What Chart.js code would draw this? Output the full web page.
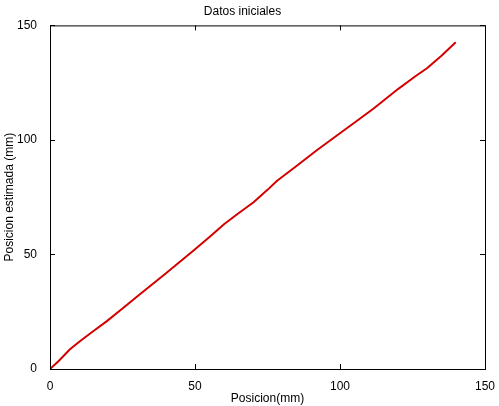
<!DOCTYPE html>
<html>
<head>
<meta charset="utf-8">
<script src="https://cdn.jsdelivr.net/npm/chart.js@4"></script>
<style>
  body { margin: 0; background: #fff; }
  #wrap { width: 499px; height: 406px; }
</style>
</head>
<body>
<div id="wrap"><canvas id="c"></canvas></div>
<script>
// Values
const posReal = [0, 3, 6.8, 10.3, 15, 19.5, 25, 31, 40, 49.4, 55, 60, 65, 70.2, 75, 78.2, 85, 92, 100.1, 106, 111.6, 120, 126, 130.1, 135, 139.9];
const posEst  = [0, 3.5, 8.5, 12.1, 16.6, 20.8, 26.4, 32.6, 41.8, 51.6, 57.6, 63.2, 68.0, 72.8, 78.2, 82.1, 88.6, 95.5, 103.0, 108.5, 113.7, 122.2, 127.8, 131.4, 136.8, 142.6];
const xTicks = [0, 50, 100, 150];
const yTicks = [0, 50, 100, 150];

const font = { family: "'Liberation Sans', Arial, sans-serif", size: 12 };

// Matlab-style box with inward ticks
const boxPlugin = {
    id: 'box',
    afterDraw(chart) {
        const { ctx, chartArea: a, scales } = chart;
        ctx.save();
        ctx.strokeStyle = '#000';
        ctx.lineWidth = 1;
        ctx.strokeRect(a.left + 0.5, a.top + 0.5, a.right - a.left, a.bottom - a.top);
        ctx.beginPath();
        xTicks.forEach(v => {
            const px = Math.round(scales.x.getPixelForValue(v)) + 0.5;
            ctx.moveTo(px, a.bottom); ctx.lineTo(px, a.bottom - 5);
            ctx.moveTo(px, a.top); ctx.lineTo(px, a.top + 5);
        });
        yTicks.forEach(v => {
            const py = Math.round(scales.y.getPixelForValue(v)) + 0.5;
            ctx.moveTo(a.left, py); ctx.lineTo(a.left + 5, py);
            ctx.moveTo(a.right, py); ctx.lineTo(a.right - 5, py);
        });
        ctx.stroke();
        ctx.restore();
    }
};

new Chart(document.getElementById('c'), {
    type: 'line',
    data: {
        datasets: [{
            data: posReal.map((x, i) => ({ x: x, y: posEst[i] })),
            borderColor: '#d40000',
            borderWidth: 2,
            pointRadius: 0,
            tension: 0
        }]
    },
    options: {
        responsive: true,
        maintainAspectRatio: false,
        animation: false,
        layout: { padding: { top: 0, right: 14, bottom: 0, left: 0 } },
        plugins: {
            legend: { display: false },
            tooltip: { enabled: false },
            title: {
                display: true, text: 'Datos iniciales', color: '#000',
                font: { ...font, weight: 'normal' }, padding: { top: 4, bottom: 7 }
            }
        },
        scales: {
            x: {
                type: 'linear', min: 0, max: 150,
                afterBuildTicks: s => { s.ticks = xTicks.map(v => ({ value: v })); },
                afterFit: s => { s.height = 37; },
                grid: { display: false },
                border: { display: false },
                ticks: { color: '#000', font: font, padding: 2, maxRotation: 0 },
                title: { display: true, text: 'Posicion(mm)', color: '#000', font: font, padding: 0 }
            },
            y: {
                type: 'linear', min: 0, max: 150,
                afterBuildTicks: s => { s.ticks = yTicks.map(v => ({ value: v })); },
                afterFit: s => { s.width = 50; },
                grid: { display: false },
                border: { display: false },
                ticks: { color: '#000', font: font, padding: 5 },
                title: { display: true, text: 'Posicion estimada (mm)', color: '#000', font: font, padding: 2 }
            }
        }
    },
    plugins: [boxPlugin]
});
</script>
</body>
</html>
